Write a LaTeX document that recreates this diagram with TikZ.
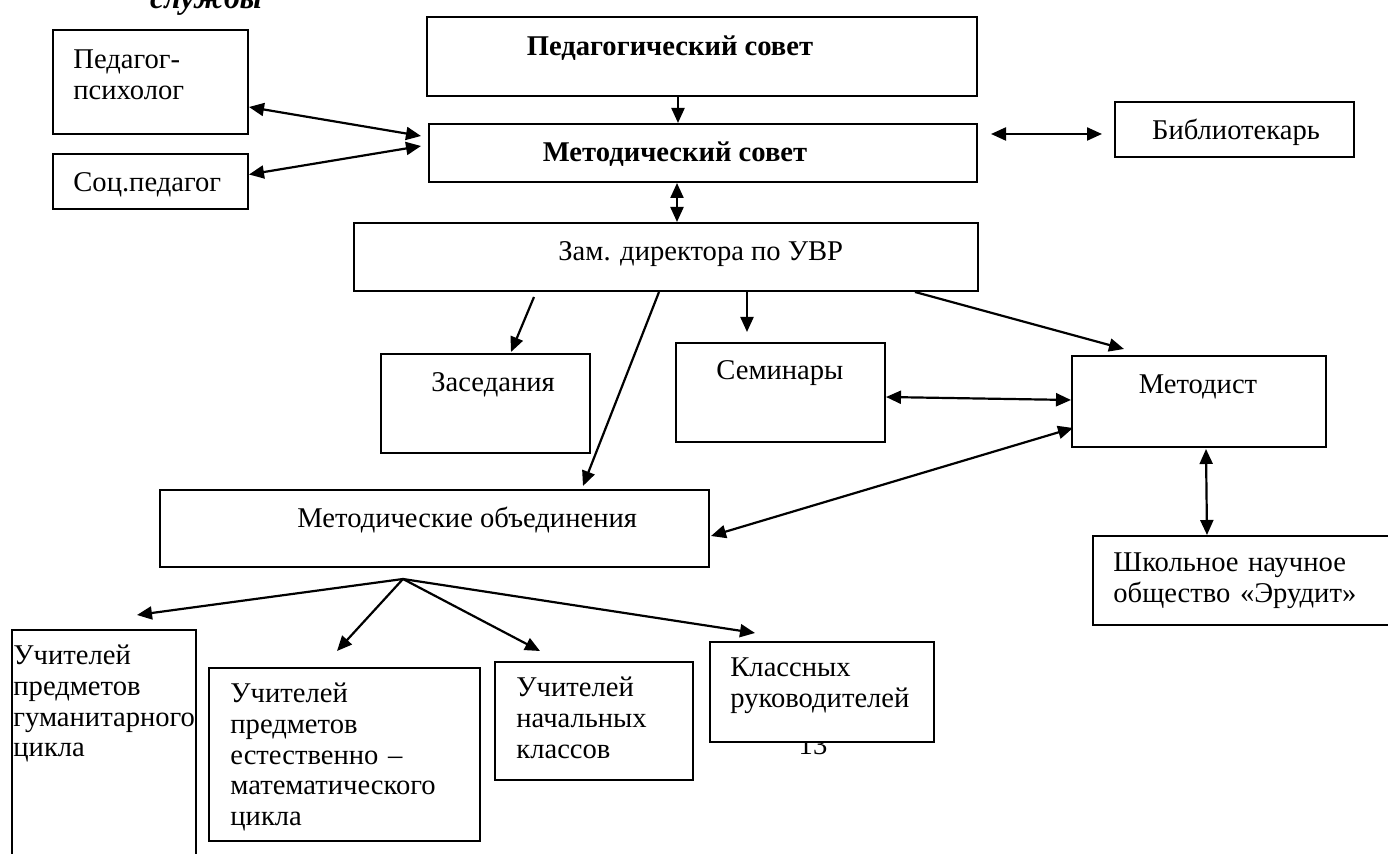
\documentclass[tikz,border=0pt]{standalone}
\usepackage{fontspec}
\setmainfont{Liberation Serif}
\usetikzlibrary{arrows.meta,calc}
\tikzset{
  box/.style 2 args={draw, line width=1pt, fill=white, inner sep=0pt, anchor=north west,
    minimum width=#1*0.5pt, minimum height=#2*0.5pt},
  txt/.style={inner sep=0pt, anchor=base west, font=\fontsize{14.3}{15.3}\selectfont},
  bold/.style={txt, anchor=base, font=\fontsize{14.3}{15.3}\selectfont\bfseries},
  lines/.style={txt, text width=#1*0.5pt, align=left},
  lines/.default=300
}
\begin{document}
\begin{tikzpicture}[x=0.5pt,y=-0.5pt]
\path[use as bounding box, clip] (0,0) rectangle (1388,854);
% cut title and page number
\node[txt, anchor=base, font=\fontsize{16}{18}\selectfont\bfseries\itshape] (title) at (206,9) {службы};
\node[txt, anchor=base] (page) at (813,755) {13};

\begin{scope}
    \node[box={195}{104}] (psych) at (52,29) {};
    \node[box={195}{55}] (soc) at (52,153) {};
    \node[box={550}{79}] (pedsov) at (426,16) {};
    \node[box={548}{58}] (metsov) at (428,123) {};
    \node[box={239}{55}] (lib) at (1114,101) {};
    \node[box={624}{68}] (zam) at (353,222) {};
    \node[box={209}{99}] (zased) at (380,353) {};
    \node[box={209}{99}] (semin) at (675,342) {};
    \node[box={254}{91}] (metodist) at (1071,355) {};
    \node[box={330}{89}] (shno) at (1092,535) {};
    \node[box={549}{77}] (mo) at (159,489) {};
    \node[box={184}{260}] (hum) at (11,629) {};
    \node[box={271}{173}] (nat) at (208,667) {};
    \node[box={198}{118}] (prim) at (494,661) {};
    \node[box={224}{100}] (klass) at (709,641) {};
\end{scope}

\begin{scope}
    \node[lines] (psychT) at (73,69) {Педагог-\\психолог};
    \node[txt] (socT) at (73,192) {Соц.педагог};
    \node[bold] (pedsovT) at (670,56) {Педагогический совет};
    \node[bold] (metsovT) at (675,162) {Методический совет};
    \node[txt, anchor=base] (libT) at (1236,140) {Библиотекарь};
    \node[txt] (zamT) at (558,261) {Зам. директора по УВР};
    \node[txt] (zasedT) at (431,392) {Заседания};
    \node[txt] (seminT) at (716,380) {Семинары};
    \node[txt, anchor=base] (metodistT) at (1198,394) {Методист};
    \node[lines] (shnoT) at (1113,572) {Школьное научное\\общество «Эрудит»};
    \node[txt] (moT) at (297,528) {Методические объединения};
    \node[lines] (humT) at (13,665) {Учителей\\предметов\\гуманитарного\\цикла};
    \node[lines] (natT) at (230,703) {Учителей\\предметов\\естественно –\\математического\\цикла};
    \node[lines] (primT) at (516,697) {Учителей\\начальных\\классов};
    \node[lines] (klassT) at (730,677) {Классных\\руководителей};
\end{scope}

\begin{scope}[>={Triangle[length=7.5pt,width=6.5pt]}, every edge/.style={draw, line width=1.1pt}]
    \path [->] ($(pedsov.south)+(-24,0)$) edge ($(metsov.north)+(-25,0)$);
    \path [<->] ($(psych.east)+(0,25)$) edge ($(metsov.west)+(-7,-17)$);
    \path [<->] ($(soc.east)+(0,-7)$) edge ($(metsov.west)+(-7,-7)$);
    \path [<->] ($(metsov.east)+(13,-19)$) edge ($(lib.west)+(-12,4.5)$);
    \path [<->] ($(metsov.south)+(-26,0)$) edge ($(zam.north)+(11,0)$);
    \path [->] ($(zam.south)+(-132,5)$) edge ($(zased.north)+(25.5,-1)$);
    \path [->] ($(zam.south)+(-7,0)$) edge ($(mo.north)+(148.5,-3)$);
    \path [->] ($(zam.south)+(81,0)$) edge ($(semin.north)+(-33.5,-10)$);
    \path [->] ($(zam.south)+(249,0)$) edge ($(metodist.north)+(-75,-6)$);
    \path [<->] ($(semin.east)+(0,4.5)$) edge ($(metodist.west)+(0,-1.5)$);
    \path [<->] ($(mo.east)+(1,7.5)$) edge ($(metodist.west)+(2,26.5)$);
    \path [<->] ($(metodist.south)+(7,1)$) edge ($(shno.north west)+(115,0)$);
    \coordinate (fan) at ($(mo.south)+(-31.5,11)$);
    \path [->] (fan) edge ($(hum.north west)+(126,-14)$)
                     edge ($(nat.north west)+(129,-16)$)
                     edge ($(prim.north west)+(46,-10)$)
                     edge ($(klass.north west)+(46,-8)$);
\end{scope}
\end{tikzpicture}
\end{document}
